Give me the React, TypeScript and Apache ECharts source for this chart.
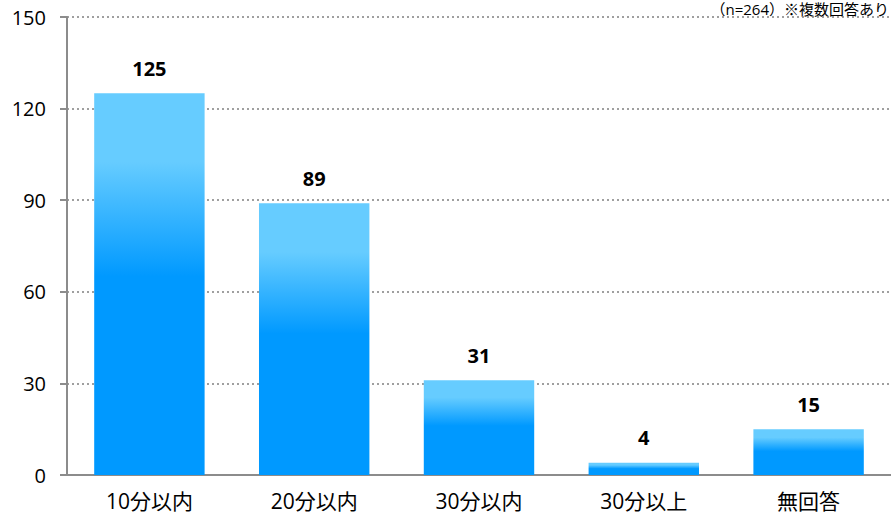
import React, { useEffect, useRef } from "react";
import * as echarts from "echarts";

const categories = ["10分以内", "20分以内", "30分以内", "30分以上", "無回答"];
const values = [125, 89, 31, 4, 15];
const yTicks = { min: 0, max: 150, interval: 30 };
const note = "（n=264）※複数回答あり";

export default function App() {
  const ref = useRef<HTMLDivElement>(null);
  useEffect(() => {
    if (!ref.current) return;
    const chart = echarts.init(ref.current, null, { renderer: "svg" });
    const font = "'Open Sans', 'Noto Sans CJK JP', sans-serif";
    chart.setOption({
      animation: false,
      backgroundColor: "#ffffff",
      grid: { left: 67, right: -2, top: 17, bottom: 44, containLabel: false },
      graphic: [
        {
          type: "text",
          right: 2,
          top: 1,
          style: { text: note, fontSize: 15, fill: "#000", fontFamily: font },
        },
      ],
      xAxis: {
        type: "category",
        data: categories,
        axisLine: { show: true, lineStyle: { color: "#8c8c8c", width: 2 } },
        axisTick: { show: false },
        axisLabel: { color: "#000", fontSize: 21, margin: 15, fontFamily: font },
      },
      yAxis: {
        type: "value",
        min: yTicks.min,
        max: yTicks.max,
        interval: yTicks.interval,
        axisLine: { show: true, lineStyle: { color: "#8c8c8c", width: 2 } },
        axisTick: { show: true, length: 7, lineStyle: { color: "#8c8c8c", width: 2 } },
        axisLabel: { color: "#000", fontSize: 20, margin: 21, fontFamily: font },
        splitLine: { show: true, lineStyle: { color: "#808080", type: [2, 3], width: 1.5 } },
      },
      series: [
        {
          type: "bar",
          data: values,
          barCategoryGap: "33%",
          itemStyle: {
            color: new echarts.graphic.LinearGradient(0, 0, 0, 1, [
              { offset: 0, color: "#66CCFF" },
              { offset: 0.18, color: "#66CCFF" },
              { offset: 0.48, color: "#0099FF" },
              { offset: 1, color: "#0099FF" },
            ]),
          },
          label: {
            show: true,
            position: "top",
            distance: 15,
            color: "#000",
            fontSize: 20,
            fontWeight: "bold",
            fontFamily: font,
          },
        },
      ],
    });
    return () => chart.dispose();
  }, []);
  return (
    <div
      ref={ref}
      style={{ position: "fixed", left: 0, top: 0, width: 891, height: 519 }}
    />
  );
}
